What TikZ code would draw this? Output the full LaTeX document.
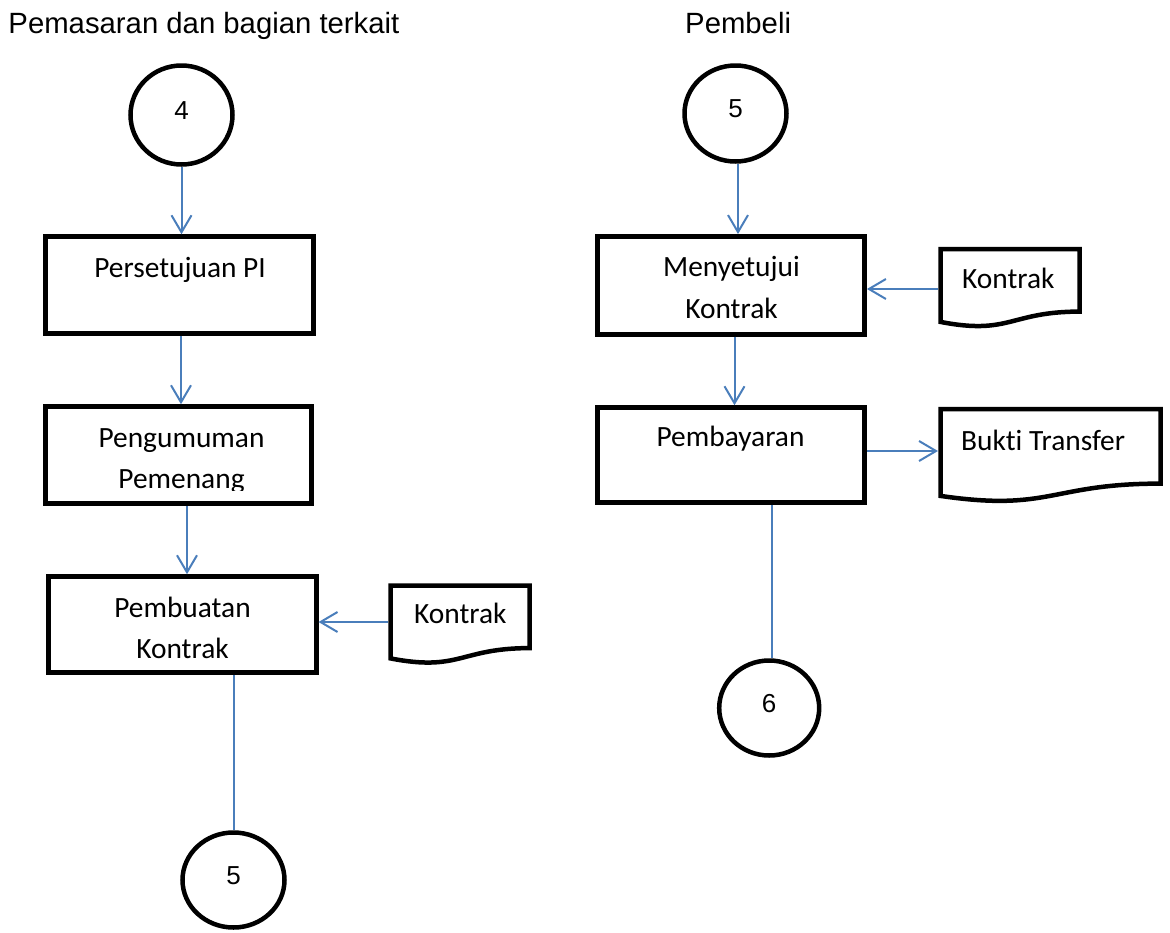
\documentclass[tikz,border=0pt]{standalone}
\usepackage{fontspec}
\setmainfont{Carlito}[Ligatures=NoCommon]
\newfontfamily\arialfont{Liberation Sans}
\usetikzlibrary{arrows.meta,shapes.geometric}
\definecolor{linkblue}{RGB}{74,126,187}
\begin{document}
\begin{tikzpicture}[x=1pt,y=-1pt,
  procbox/.style={draw, rectangle, line width=4.5pt, inner sep=0pt},
  docline/.style={draw, line width=4.5pt, line join=miter},
  conn/.style={draw=linkblue, line width=2pt},
  arr/.style={conn, -{Straight Barb[length=17pt,width=20pt]}},
  lbl/.style={font=\fontsize{29.4}{35}\selectfont, inner sep=0pt, anchor=base},
  doclbl/.style={lbl, anchor=base west},
  title/.style={font=\arialfont\fontsize{29.3}{34}\selectfont, inner sep=0pt, anchor=base west},
  connector/.style={ellipse, draw, line width=4.5pt, inner sep=0pt,
    font=\arialfont\fontsize{26}{30}\selectfont, text depth=9pt}]
\useasboundingbox (0,0) rectangle (1170,932);

% lane titles
\node[title] (tleft) at (8.3,33.5) {Pemasaran dan bagian terkait};
\node[title] (tright) at (685,33.5) {Pembeli};

% off-page connectors
\node[connector, minimum width=102pt, minimum height=99pt] (c4) at (181.5,115) {4};
\node[connector, minimum width=102pt, minimum height=95pt] (c5a) at (233.5,880) {5};
\node[connector, minimum width=102pt, minimum height=96pt] (c5b) at (735.5,113.5) {5};
\node[connector, minimum width=100pt, minimum height=95pt] (c6) at (769.2,708) {6};

% process boxes
\node[procbox, minimum width=268pt, minimum height=97pt] (p1) at (179.5,285) {};
\node[procbox, minimum width=266pt, minimum height=97pt] (p2) at (178.7,455) {};
\node[procbox, minimum width=268pt, minimum height=96pt] (p3) at (182.3,624.5) {};
\node[procbox, minimum width=267pt, minimum height=98pt] (m1) at (731.2,285.3) {};
\node[procbox, minimum width=267pt, minimum height=95pt] (m2) at (731,455) {};

% box texts
\node[lbl] (p1t) at (180,277) {Persetujuan PI};
\begin{scope}
  % the second line is cut off just below its baseline
  \clip (46,406) rectangle (312,490.5);
  \node[lbl] (p2t1) at (181.5,447.7) {Pengumuman};
  \node[lbl] (p2t2) at (181.5,488.7) {Pemenang};
\end{scope}
\node[lbl] (p3t1) at (182.5,617) {Pembuatan};
\node[lbl] (p3t2) at (182.5,658) {Kontrak};
\node[lbl] (m1t1) at (731.5,276.7) {Menyetujui};
\node[lbl] (m1t2) at (731.5,318) {Kontrak};
\node[lbl] (m2t) at (730.5,446.7) {Pembayaran};

% documents
\draw[docline] (390.5,585.5) -- (529.5,585.5) -- (529.5,648.1)
  .. controls (460,648.1) and (460,671.9) .. (390.5,658.4) -- cycle;
\node[doclbl] (d1t) at (414,623.3) {Kontrak};
\coordinate (d1) at (388,622);

\draw[docline] (940.5,249) -- (1079.5,249) -- (1079.5,311.6)
  .. controls (1010,311.6) and (1010,335.4) .. (940.5,321.9) -- cycle;
\node[doclbl] (d2t) at (962,288.3) {Kontrak};
\coordinate (d2) at (938,289);

\draw[docline] (940.5,409) -- (1160.5,409) -- (1160.5,483.6)
  .. controls (1050.5,483.6) and (1050.5,512) .. (940.5,495.9) -- cycle;
\node[doclbl] (d3t) at (961,450) {Bukti Transfer};
\coordinate (d3) at (938,451);

% flow, left lane
\draw[arr] (c4.south) -- (c4.south |- p1.north);
\draw[arr] (p1.south -| 181,0) -- (p2.north -| 181,0);
\draw[arr] (p2.south -| 187,0) -- (p3.north -| 187,0);
\draw[arr] (d1) -- (p3.east |- d1);
\draw[conn] (p3.south -| c5a.north) -- (c5a.north);

% flow, right lane
\draw[arr] (c5b.south -| 738,0) -- (m1.north -| 738,0);
\draw[arr] (d2) -- (m1.east |- d2);
\draw[arr] (m1.south -| 734.5,0) -- (m2.north -| 734.5,0);
\draw[arr] (m2.east |- d3) -- (d3);
\draw[conn] (m2.south -| 772,0) -- (c6.north -| 772,0);
\end{tikzpicture}
\end{document}
